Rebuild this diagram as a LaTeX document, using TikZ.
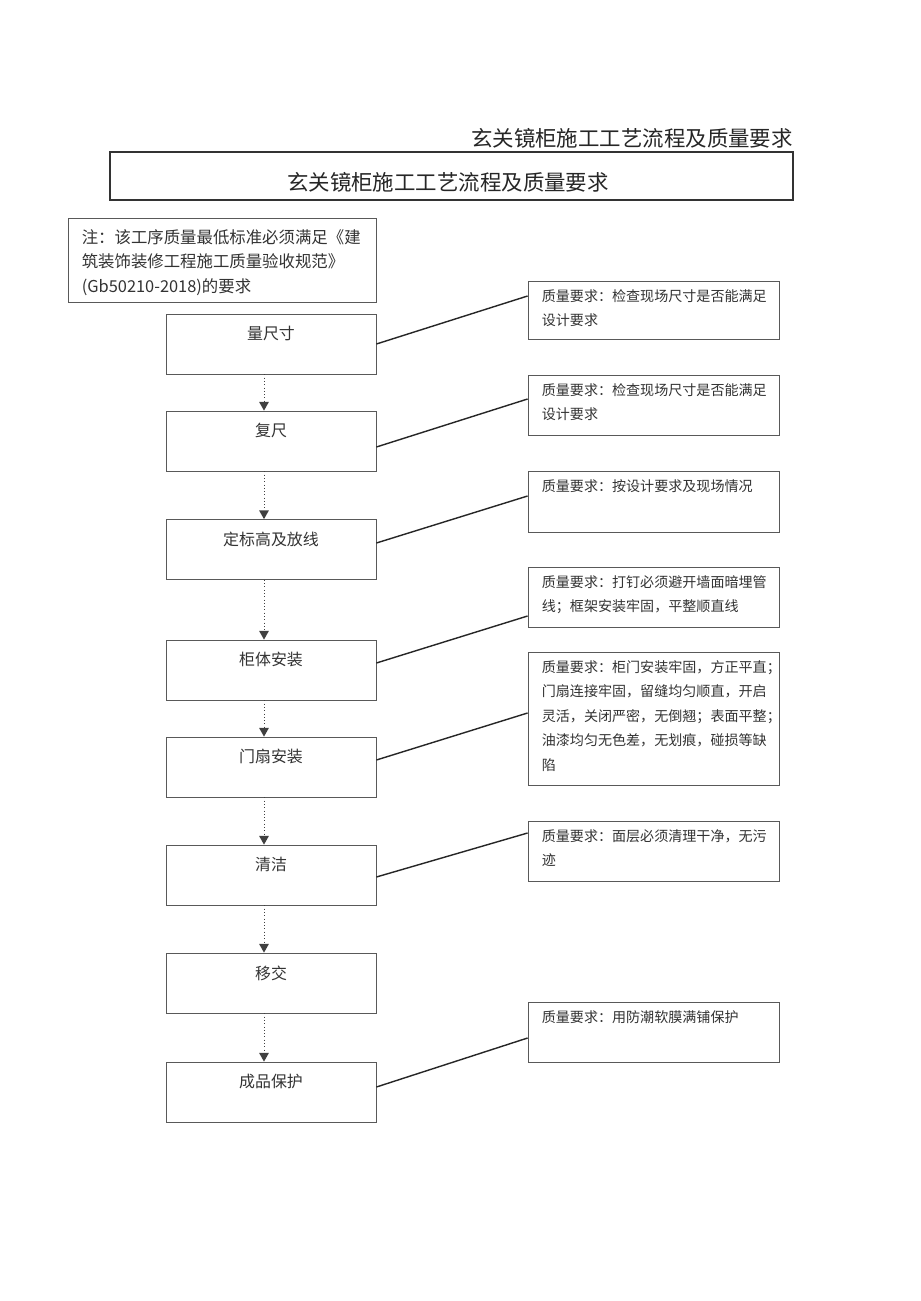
\documentclass[tikz,border=0pt]{standalone}
\usepackage{fontspec}
\setmainfont{Noto Sans CJK SC}
\usepackage{tikz}
\usetikzlibrary{calc,positioning,arrows.meta}

\begin{document}
\begin{tikzpicture}[
    x=0.03cm, y=-0.03cm,
    box/.style={draw=black!65, line width=0.7pt, inner sep=0pt},
    stepbox/.style={box, minimum width=6.3cm, minimum height=1.8cm},
    qbox/.style={box, minimum width=7.53cm},
    steptext/.style={inner sep=0pt, text=black!80, font=\fontsize{13.6}{16}\selectfont},
    qtext/.style={inner sep=0pt, text=black!80, text width=7cm, align=left,
        font=\fontsize{12}{20.9}\selectfont},
    flow/.style={dotted, black!75, line width=0.8pt, -{Triangle[width=8.5pt,length=7.5pt,line width=0pt]}},
    link/.style={black!85, line width=1.2pt},
]
    \useasboundingbox (0,0) rectangle (920,1301);
    \fill [white] (0,0) rectangle (920,1301);

    % titles
    \node [anchor=east, inner sep=0pt, text=black!85, font=\fontsize{18.3}{20}\selectfont]
        (head) at (793,138) {玄关镜柜施工工艺流程及质量要求};
    \node [draw=black!80, line width=1pt, minimum width=20.49cm, minimum height=1.44cm]
        (titlebox) at (451.5,176) {};
    \node [inner sep=0pt, text=black!85, font=\fontsize{18.3}{20}\selectfont]
        (title) at (448,182) {玄关镜柜施工工艺流程及质量要求};

    % note
    \node [box, minimum width=9.24cm, minimum height=2.52cm] (note) at (222,260) {};
    \node [qtext, text width=9cm, font=\fontsize{14}{20.9}\selectfont,
        below right=0.35cm and 0.42cm of note.north west] (notetext)
        {注：该工序质量最低标准必须满足《建\\筑装饰装修工程施工质量验收规范》\\(Gb50210-2018)的要求};

    % steps
    \node [stepbox] (s1) at (271,344)   {};
    \node [stepbox] (s2) at (271,441)   {};
    \node [stepbox] (s3) at (271,549.5) {};
    \node [stepbox] (s4) at (271,670)   {};
    \node [stepbox] (s5) at (271,767)   {};
    \node [stepbox] (s6) at (271,875)   {};
    \node [stepbox] (s7) at (271,983)   {};
    \node [stepbox] (s8) at (271,1092)  {};

    \node [steptext, below=0.38cm of s1.north] (t1) {量尺寸};
    \node [steptext, below=0.38cm of s2.north] (t2) {复尺};
    \node [steptext, below=0.38cm of s3.north] (t3) {定标高及放线};
    \node [steptext, below=0.38cm of s4.north] (t4) {柜体安装};
    \node [steptext, below=0.38cm of s5.north] (t5) {门扇安装};
    \node [steptext, below=0.38cm of s6.north] (t6) {清洁};
    \node [steptext, below=0.38cm of s7.north] (t7) {移交};
    \node [steptext, below=0.38cm of s8.north] (t8) {成品保护};

    \foreach \a/\b in {s1/s2, s2/s3, s3/s4, s4/s5, s5/s6, s6/s7, s7/s8}
        \draw [flow] ($(\a.south)+(-7,0)$) -- ($(\b.north)+(-7,0)$);

    % quality requirements
    \node [qbox, minimum height=1.74cm] (q1) at (653.5,310)   {};
    \node [qbox, minimum height=1.8cm]  (q2) at (653.5,405)   {};
    \node [qbox, minimum height=1.83cm] (q3) at (653.5,501.5) {};
    \node [qbox, minimum height=1.8cm]  (q4) at (653.5,597)   {};
    \node [qbox, minimum height=3.99cm] (q5) at (653.5,718.5) {};
    \node [qbox, minimum height=1.8cm]  (q6) at (653.5,851)   {};
    \node [qbox, minimum height=1.8cm]  (q7) at (653.5,1032)  {};

    \node [qtext, below right=0.26cm and 0.42cm of q1.north west] (r1)
        {质量要求：检查现场尺寸是否能满足\\设计要求};
    \node [qtext, below right=0.26cm and 0.42cm of q2.north west] (r2)
        {质量要求：检查现场尺寸是否能满足\\设计要求};
    \node [qtext, below right=0.26cm and 0.42cm of q3.north west] (r3)
        {质量要求：按设计要求及现场情况};
    \node [qtext, below right=0.26cm and 0.42cm of q4.north west] (r4)
        {质量要求：打钉必须避开墙面暗埋管\\线；框架安装牢固，平整顺直线};
    \node [qtext, below right=0.26cm and 0.42cm of q5.north west] (r5)
        {质量要求：柜门安装牢固，方正平直；\\门扇连接牢固，留缝均匀顺直，开启\\灵活，关闭严密，无倒翘；表面平整；\\油漆均匀无色差，无划痕，碰损等缺\\陷};
    \node [qtext, below right=0.26cm and 0.42cm of q6.north west] (r6)
        {质量要求：面层必须清理干净，无污\\迹};
    \node [qtext, below right=0.26cm and 0.42cm of q7.north west] (r7)
        {质量要求：用防潮软膜满铺保护};

    \draw [link] ($(s1.east)+(0,0)$)    -- ($(q1.west)+(0,-14)$);
    \draw [link] ($(s2.east)+(0,6)$)    -- ($(q2.west)+(0,-6)$);
    \draw [link] ($(s3.east)+(0,-6.5)$) -- ($(q3.west)+(0,-5.5)$);
    \draw [link] ($(s4.east)+(0,-7)$)   -- ($(q4.west)+(0,19)$);
    \draw [link] ($(s5.east)+(0,-7)$)   -- ($(q5.west)+(0,-5.5)$);
    \draw [link] ($(s6.east)+(0,2)$)    -- ($(q6.west)+(0,-18)$);
    \draw [link] ($(s8.east)+(0,-5)$)   -- ($(q7.west)+(0,6)$);
\end{tikzpicture}
\end{document}
